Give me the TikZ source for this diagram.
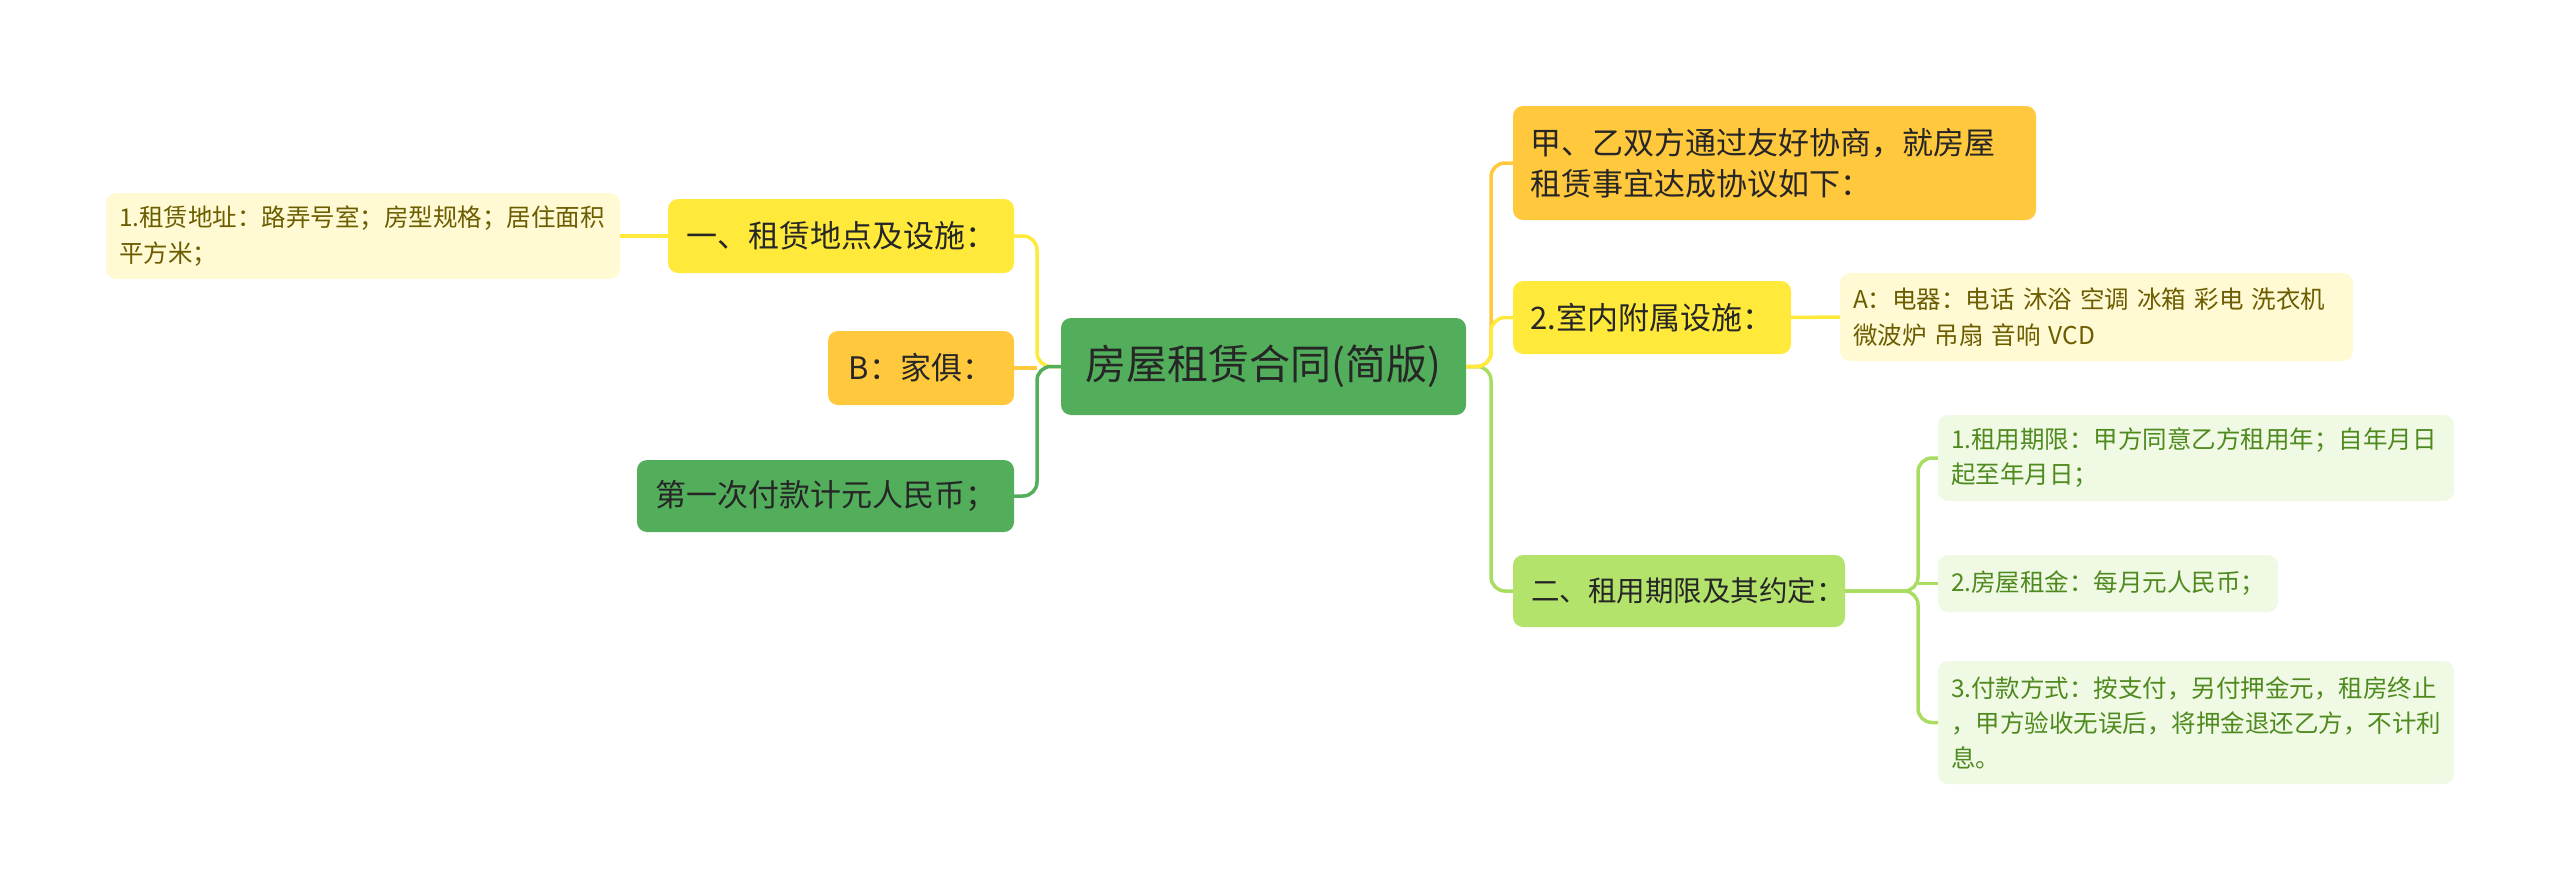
\documentclass[tikz,border=0pt]{standalone}
\usepackage{fontspec}
\setmainfont{Noto Sans CJK SC}
\definecolor{cgreen}{HTML}{52AE5B}
\definecolor{cyellow}{HTML}{FFEA3B}
\definecolor{corange}{HTML}{FFC83D}
\definecolor{clight}{HTML}{B3E36B}
\definecolor{llight}{HTML}{A9DD62}
\definecolor{lyfill}{HTML}{FFFAD4}
\definecolor{lytext}{HTML}{6B5D00}
\definecolor{lgfill}{HTML}{EFF9E3}
\definecolor{lgtext}{HTML}{4F8A1F}
\definecolor{txt}{HTML}{262626}
\begin{document}
\begin{tikzpicture}[x=1pt,y=-1pt,
  box/.style={rounded corners=10pt, inner xsep=16pt, inner ysep=0pt, text=txt,
    font=\fontsize{31}{41}\selectfont},
  mainbox/.style={box, fill=cgreen, font=\fontsize{41}{50}\selectfont},
  ybox/.style={box, fill=cyellow},
  obox/.style={box, fill=corange},
  gbox/.style={box, fill=cgreen},
  lbox/.style={box, fill=clight},
  leafy/.style={rounded corners=10pt, inner xsep=13pt, inner ysep=0pt, fill=lyfill, text=lytext,
    align=left, font=\fontsize{24.5}{36}\selectfont},
  leafg/.style={rounded corners=10pt, inner xsep=13pt, inner ysep=0pt, fill=lgfill, text=lgtext,
    align=left, font=\fontsize{24.5}{35}\selectfont},
  conn/.style={line width=3.5pt, rounded corners=14pt},
  cY/.style={conn, draw=cyellow},
  cO/.style={conn, draw=corange},
  cG/.style={conn, draw=cgreen},
  cL/.style={conn, draw=llight}]
\useasboundingbox (0,0) rectangle (2560,889);

\node[mainbox, minimum width=405pt, minimum height=97pt] (c) at (1263.5,366.5) {房屋租赁合同(简版)};

\node[ybox, minimum width=346pt, minimum height=74pt] (n1) at (841,236) {一、租赁地点及设施：};
\node[leafy, text width=488pt, minimum height=86pt] (leaf1) at (363,236) {1.租赁地址：路弄号室；房型规格；居住面积\\平方米；};
\node[obox, minimum width=186pt, minimum height=74pt] (B) at (921,368) {B：家俱：};
\node[gbox, minimum width=377pt, minimum height=72pt] (g1) at (825.5,496) {第一次付款计元人民币；};

\node[obox, align=left, text width=489pt, inner xsep=17pt, minimum height=114pt] (jia) at (1774.5,163) {甲、乙双方通过友好协商，就房屋\\租赁事宜达成协议如下：};
\node[ybox, minimum width=278pt, minimum height=73pt] (shi) at (1652,317.5) {2.室内附属设施：};
\node[leafy, text width=487pt, minimum height=88pt] (A) at (2096.5,317) {A：电器：电话 沐浴 空调 冰箱 彩电 洗衣机\\微波炉 吊扇 音响 VCD};
\node[lbox, font=\fontsize{28.5}{38}\selectfont, inner xsep=8pt, align=left, text width=316pt, minimum height=72pt] (er) at (1679,591) {\hspace*{10pt}二、租用期限及其约定：};
\node[leafg, text width=490pt, minimum height=86pt] (L1) at (2196,458) {1.租用期限：甲方同意乙方租用年；自年月日\\起至年月日；};
\node[leafg, text width=314pt, minimum height=57pt] (L2) at (2108,583.5) {2.房屋租金：每月元人民币；};
\node[leafg, text width=490pt, minimum height=123pt] (L3) at (2196,722.5) {3.付款方式：按支付，另付押金元，租房终止\\，甲方验收无误后，将押金退还乙方，不计利\\息。};

\coordinate (tL) at (1037,366.5);
\coordinate (tR) at (1491,366.5);
\coordinate (t2) at (1918,591);

\draw[cY] (c.west) -- (tL) |- (n1.east);
\draw[cG] (c.west) -- (tL) |- (g1.east);
\draw[cO] (B.east -| tL) -- (B.east);
\draw[cY] (n1.west) -- (leaf1.east);

\draw[cO] (c.east) -- (tR) |- (jia.west);
\draw[cL] (c.east) -- (tR) |- (er.west);
\draw[cY] (c.east) -- (tR) |- (shi.west);
\draw[cY] (shi.east) -- (A.west);

\draw[cL] (er.east) -- (t2) |- (L1.west);
\draw[cL] (er.east) -- (t2) |- (L3.west);
\draw[cL] (L2.west -| t2) -- (L2.west);
\end{tikzpicture}
\end{document}
